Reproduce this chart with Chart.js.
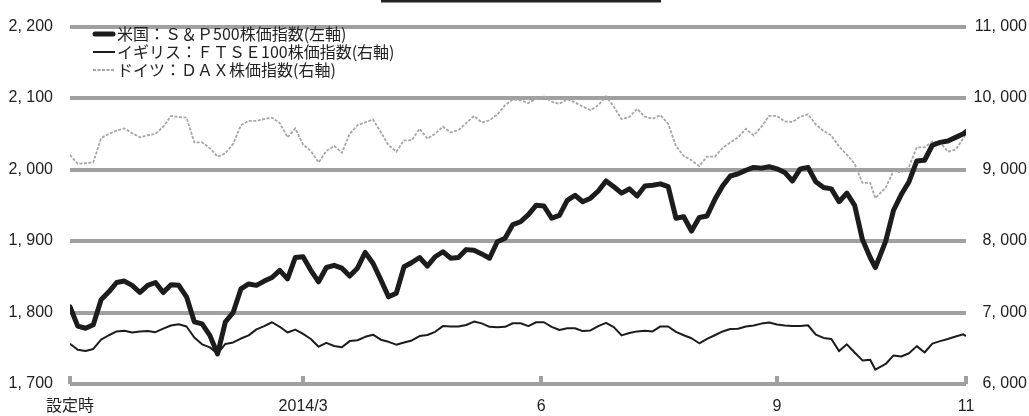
<!DOCTYPE html>
<html><head><meta charset="utf-8">
<script src="https://cdn.jsdelivr.net/npm/chart.js@4.4.0/dist/chart.umd.min.js"></script>
<style>html,body{margin:0;padding:0;background:#fff;}#wrap{position:relative;width:1029px;height:416px;}</style>
</head><body><div id="wrap"><canvas id="c" width="1029" height="416"></canvas></div>
<script>
// x values: days since the fund's setting date
const days = [0,3,6,9,12,15,18,21,24,27,30,33,36,39,42,45,48,51,54,57,60,63,66,69,72,75,78,81,84,87,90,93,96,99,102,105,108,111,114,117,120,123,126,129,132,135,138,141,144,147,150,153,156,159,162,165,168,171,174,177,180,183,186,189,192,195,198,201,204,207,210,213,216,219,222,225,228,231,234,237,240,243,246,249,252,255,258,261,264,267,270,273,276,279,282,285,288,291,294,297,300,303,306,309,311,315,318,321,324,327,330,333,336,339,342,345,346];
// 米国 S&P500 (left axis)
const sp500 = [1808,1781,1778,1783,1818,1829,1842,1844,1838,1828,1838,1842,1828,1839,1838,1822,1787,1784,1768,1742,1787,1800,1833,1840,1838,1844,1849,1859,1847,1877,1878,1859,1843,1863,1866,1862,1851,1862,1884,1869,1846,1822,1827,1864,1870,1877,1865,1878,1885,1876,1877,1888,1887,1882,1876,1899,1904,1923,1927,1937,1950,1949,1932,1936,1957,1964,1955,1960,1970,1984,1976,1967,1973,1963,1977,1978,1980,1976,1932,1934,1914,1933,1935,1958,1977,1991,1994,1999,2003,2002,2004,2001,1996,1984,2001,2003,1983,1975,1973,1955,1967,1950,1902,1877,1863,1900,1943,1965,1983,2012,2013,2034,2038,2040,2045,2050,2053];
// イギリス FTSE100 (right axis)
const ftse = [6564,6480,6462,6490,6620,6682,6736,6745,6720,6736,6740,6725,6775,6818,6836,6805,6650,6555,6512,6425,6560,6582,6636,6680,6764,6810,6864,6800,6720,6760,6700,6630,6522,6575,6532,6515,6600,6612,6660,6690,6620,6590,6550,6580,6609,6670,6685,6730,6810,6805,6805,6825,6873,6848,6800,6795,6800,6850,6850,6810,6864,6864,6800,6755,6780,6780,6740,6750,6810,6855,6795,6680,6714,6736,6746,6736,6805,6805,6730,6682,6640,6570,6630,6682,6735,6770,6773,6805,6818,6845,6860,6832,6818,6812,6812,6822,6690,6645,6630,6460,6555,6440,6330,6340,6200,6280,6400,6385,6430,6530,6441,6565,6600,6630,6665,6695,6670];
// ドイツ DAX (right axis)
const dax = [9205,9080,9090,9100,9440,9500,9545,9575,9510,9450,9480,9500,9600,9750,9735,9727,9380,9380,9300,9180,9227,9360,9620,9682,9682,9705,9727,9650,9450,9575,9350,9260,9100,9260,9330,9235,9500,9620,9659,9700,9525,9341,9250,9409,9410,9570,9432,9500,9600,9520,9550,9650,9750,9659,9690,9770,9900,9980,9968,9932,9990,10023,9950,9920,9985,9940,9880,9830,9900,10023,9880,9705,9735,9850,9740,9710,9760,9640,9330,9190,9130,9050,9180,9180,9300,9380,9450,9570,9477,9600,9750,9750,9675,9665,9740,9773,9630,9540,9477,9320,9210,9080,8815,8815,8600,8750,8980,8960,9040,9310,9310,9390,9380,9250,9280,9440,9500];

const tickDays = [0, 90, 182, 273, 346];
const tickLabels = ['設定時', '2014/3', '6', '9', '11'];
const seriesNames = ['米国：Ｓ＆Ｐ500株価指数(左軸)', 'イギリス：ＦＴＳＥ100株価指数(右軸)', 'ドイツ：ＤＡＸ株価指数(右軸)'];

function fmt(v) { return String(v).replace(/\B(?=(\d{3})+(?!\d))/g, ', '); }
function pts(arr) { return days.map((d, i) => ({x: d, y: arr[i]})); }

const AXIS_FONT = {family: "'Liberation Sans', 'Noto Sans CJK JP', sans-serif", size: 16};
const GRID = '#a0a0a0';
const TEXT = '#222';

const legendPlugin = {
  id: 'customLegend',
  afterDraw(chart) {
    const ctx = chart.ctx;
    ctx.save();
    ctx.fillStyle = '#222';
    ctx.fillRect(381, 0, 280, 2.5);
    const rows = [34, 52, 70];
    chart.data.datasets.forEach((ds, i) => {
      const y = rows[i];
      ctx.strokeStyle = ds.borderColor;
      ctx.lineWidth = ds.borderWidth;
      ctx.setLineDash(ds.borderDash || []);
      ctx.lineCap = i === 0 ? 'round' : 'butt';
      ctx.beginPath();
      ctx.moveTo(i === 0 ? 95 : 93, y);
      ctx.lineTo(i === 0 ? 113 : 115, y);
      ctx.stroke();
      ctx.setLineDash([]);
      ctx.fillStyle = TEXT;
      ctx.font = "16px 'Noto Sans CJK JP'";
      ctx.textBaseline = 'middle';
      ctx.textAlign = 'left';
      ctx.fillText(ds.label, 117, y);
    });
    ctx.restore();
  }
};

new Chart(document.getElementById('c'), {
  type: 'line',
  data: {
    datasets: [
      {label: seriesNames[0], data: pts(sp500), yAxisID: 'y', borderColor: '#1c1c1c', borderWidth: 5, pointRadius: 0, tension: 0, borderJoinStyle: 'round', borderCapStyle: 'round'},
      {label: seriesNames[1], data: pts(ftse), yAxisID: 'y2', borderColor: '#1c1c1c', borderWidth: 2, pointRadius: 0, tension: 0, borderJoinStyle: 'round'},
      {label: seriesNames[2], data: pts(dax), yAxisID: 'y2', borderColor: '#a6a6a6', borderWidth: 1.8, borderDash: [3, 1.5], pointRadius: 0, tension: 0}
    ]
  },
  options: {
    responsive: false,
    animation: false,
    layout: {padding: {top: 18, right: 2, left: 0, bottom: 0}},
    plugins: {legend: {display: false}, tooltip: {enabled: false}},
    scales: {
      x: {
        type: 'linear', min: 0, max: 346,
        afterBuildTicks: s => { s.ticks = tickDays.map(v => ({value: v})); },
        afterFit: s => { s.height = 32; },
        ticks: {callback: (v, i) => tickLabels[i], font: AXIS_FONT, color: TEXT, padding: 21, maxRotation: 0, autoSkip: false},
        grid: {drawOnChartArea: false, drawTicks: true, tickLength: -8, lineWidth: 4, color: GRID},
        border: {display: false}
      },
      y: {
        position: 'left', min: 1700, max: 2200,
        afterFit: s => { s.width = 70; },
        ticks: {stepSize: 100, callback: v => fmt(v), font: AXIS_FONT, color: TEXT, padding: 17},
        grid: {color: GRID, lineWidth: 4, drawTicks: false},
        border: {display: false}
      },
      y2: {
        position: 'right', min: 6000, max: 11000,
        afterFit: s => { s.width = 61; },
        ticks: {stepSize: 1000, callback: v => fmt(v), font: AXIS_FONT, color: TEXT, crossAlign: 'far', padding: 4},
        grid: {display: false},
        border: {display: false}
      }
    }
  },
  plugins: [legendPlugin]
});
</script>
</body></html>
